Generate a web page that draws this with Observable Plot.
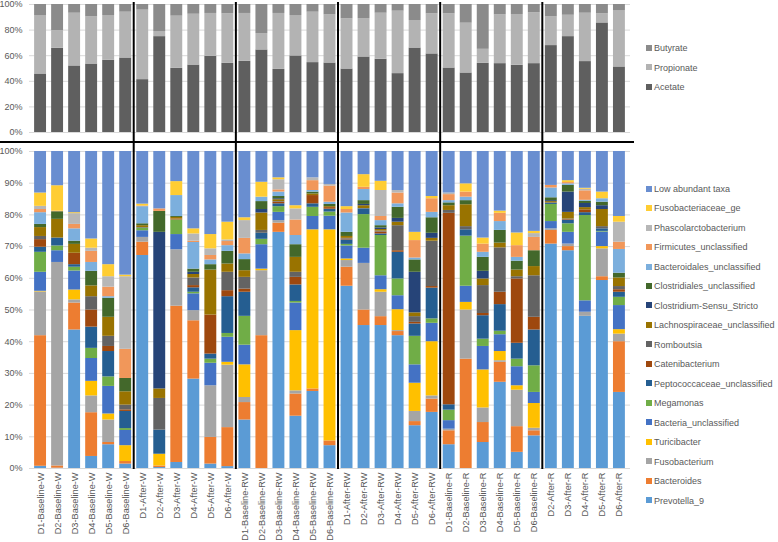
<!DOCTYPE html>
<html><head><meta charset="utf-8">
<script src="https://cdn.jsdelivr.net/npm/d3@7"></script>
<script src="https://cdn.jsdelivr.net/npm/@observablehq/plot@0.6"></script>
<style>
body{margin:0;background:#fff;font-family:"Liberation Sans",Arial,sans-serif;}
#wrap{position:relative;width:778px;height:542px;overflow:hidden;background:#fff;}
#top{position:absolute;left:0;top:0;}
#bottom{position:absolute;left:0;top:145px;}
.legend{position:absolute;left:646px;top:0;font-size:9px;color:#595959;}
.item{position:absolute;left:0;white-space:nowrap;height:12px;line-height:12px;}
.sw{display:inline-block;width:6px;height:6px;margin-right:2px;vertical-align:middle;position:relative;top:-1px;}
</style></head>
<body><div id="wrap"><div id="top"></div><div id="bottom"></div><div id="legTop" class="legend"></div><div id="legBottom" class="legend"></div></div>
<script>
const categories = [
  "D1-Baseline-W","D2-Baseline-W","D3-Baseline-W","D4-Baseline-W","D5-Baseline-W","D6-Baseline-W",
  "D1-After-W","D2-After-W","D3-After-W","D4-After-W","D5-After-W","D6-After-W",
  "D1-Baseline-RW","D2-Baseline-RW","D3-Baseline-RW","D4-Baseline-RW","D5-Baseline-RW","D6-Baseline-RW",
  "D1-After-RW","D2-After-RW","D3-After-RW","D4-After-RW","D5-After-RW","D6-After-RW",
  "D1-Baseline-R","D2-Baseline-R","D3-Baseline-R","D4-Baseline-R","D5-Baseline-R","D6-Baseline-R",
  "D2-After-R","D3-After-R","D4-After-R","D5-After-R","D6-After-R"];
const groupEnds = ["D6-Baseline-W","D6-After-W","D6-Baseline-RW","D6-After-RW","D6-Baseline-R"];

// SCFA panel (%)
const scfaNames = ["Acetate","Propionate","Butyrate"];
const scfaColors = ["#5f5f5f","#b3b3b3","#8b8b8b"];
const acetate =    [45.7,65.8,52.0,53.5,56.4,58.2, 41.3,74.9,50.1,52.7,59.5,54.0, 55.6,64.5,49.3,59.8,54.6,54.3, 49.6,59.0,57.2,46.0,66.0,61.4, 50.4,46.5,54.0,53.8,52.5,53.8, 67.9,74.9,55.4,85.6,51.2];
const propionate = [45.7,13.8,41.2,36.8,35.0,35.8, 54.3,4.0,40.8,39.7,33.5,38.7, 37.4,12.8,43.7,31.6,39.4,37.6, 39.2,30.0,36.0,48.8,21.5,31.3, 42.3,38.9,11.0,38.1,39.7,39.7, 22.4,16.7,37.8,7.1,44.1];
const butyrate =   [8.6,20.4,6.8,9.7,8.6,6.0, 4.4,21.1,9.1,7.6,7.0,7.3, 7.0,22.7,7.0,8.6,6.0,8.1, 11.2,11.0,6.8,5.2,12.5,7.3, 7.3,14.6,35.0,8.1,7.8,6.5, 9.7,8.4,6.8,7.3,4.7];

// Taxa panel (%), stacked bottom -> top
const taxa = ["Prevotella_9","Bacteroides","Fusobacterium","Turicibacter","Bacteria_unclassified","Megamonas",
  "Peptococcaceae_unclassified","Catenibacterium","Romboutsia","Lachnospiraceae_unclassified","Clostridium-Sensu_Stricto",
  "Clostridiales_unclassified","Bacteroidales_unclassified","Firmicutes_unclassified","Phascolarctobacterium",
  "Fusobacteriaceae_ge","Low abundant taxa"];
const taxaColors = ["#5B9BD5","#ED7D31","#A5A5A5","#FFC000","#4472C4","#70AD47","#255E91","#9E480E","#636363",
  "#997300","#264478","#43682B","#7CAFDD","#F1975A","#B7B7B7","#FFCD33","#698ED0"];
const prevotella9 = [0.7,0.1,43.7,3.8,7.5,1.4, 67.2,0.3,1.9,28.2,1.4,0.6, 15.3,0,74.5,16.5,24.3,7.2, 57.5,45.1,45.1,41.9,13.5,17.7, 7.5,0,8.2,27.2,5.1,10.3, 70.8,68.7,48.0,59.3,24.0];
const bacteroides = [41.2,0.7,8.5,13.8,0.7,0.8, 4.2,0.5,49.3,18.4,8.4,12.3, 5.5,41.9,2.9,7.0,0.8,1.5, 6.0,4.9,2.8,1.3,1.3,4.2, 4.4,34.5,6.3,6.3,8.1,1.6, 4.3,1.3,0,1.2,16.0];
const fusobacterium = [13.8,64.2,1.0,5.3,7.1,0, 1.5,0,17.8,3.2,16.3,19.7, 1.6,20.5,0.8,1.0,0,0, 2.1,14.7,7.7,0.3,3.2,1.0, 0.5,15.5,4.6,0.5,11.5,0.8, 0.5,0.8,1.3,8.8,2.4];
const turicibacter = [0.2,0,3.1,4.6,1.9,5.0, 0,3.7,0,0,0,0.9, 10.3,0.5,0,19.0,50.2,66.6, 0.5,0,0.8,6.6,8.9,17.1, 0,2.4,12.0,2.9,1.4,7.8, 0,0,0,0.7,1.4];
const bacteriaUnclassified = [6.0,3.7,6.0,7.2,8.7,4.8, 2.1,0,4.8,5.3,7.1,7.9, 6.2,7.7,2.6,8.7,4.2,4.3, 4.1,4.8,4.4,4.4,5.8,5.8, 2.7,5.1,7.4,5.3,6.0,3.5, 2.3,3.7,3.6,4.6,7.6];
const megamonas = [6.3,1.5,1.2,3.2,3.0,0.6, 0.8,0,4.6,0.5,1.3,1.2, 9.1,1.7,1.8,0.5,2.9,1.3, 0.5,10.6,12.7,5.3,9.0,1.4, 3.3,15.8,2.3,1.1,2.4,8.4, 5.4,2.7,26.9,0.2,2.6];
const peptococcaceae = [1.6,2.5,0.8,6.7,8.0,5.4, 0,7.6,0,1.4,1.6,11.6, 7.6,1.9,0.9,5.2,1.1,0.9, 1.4,1.8,0.5,8.4,3.9,9.7, 1.7,2.0,7.4,8.4,5.0,11.3, 0.3,1.1,0.9,0.8,1.6];
const catenibacterium = [2.4,0,3.6,5.4,1.6,0.5, 0,0,0.3,0.7,12.3,1.9, 1.0,0,0.5,2.4,2.6,0.5, 0.3,0,0.6,0.5,0.5,0.5, 60.4,0,0.7,3.9,20.3,4.0, 0,0.2,0.9,0,0.8];
const romboutsia = [1.0,0,0,4.2,3.2,1.5, 0.2,10.0,0,2.4,0,5.8, 3.7,0.9,0.2,1.6,0,0, 0.2,0.1,0.3,7.9,1.8,14.3, 0.9,1.0,8.8,14.0,0.7,13.1, 0.2,0.2,0,0.7,1.0];
const lachnospiraceae = [2.8,5.9,2.8,3.4,6.0,4.2, 0.6,3.0,0.5,1.1,14.2,2.6, 2.1,5.5,0.6,4.7,0.5,0.3, 0.6,0.9,0.5,1.1,1.2,0.9, 1.5,6.9,2.1,1.5,2.1,2.9, 0.4,2.1,0.7,5.4,2.7];
const clostridiumSensuStricto = [0,0,0,0,0,0, 0,49.4,0,0.7,0,0, 0,1.1,0.3,0,0,0, 0,0.4,0.5,1.2,12.8,1.6, 0,0,2.4,0,0,0, 0.3,6.4,1.3,1.2,0];
const clostridiales = [1.0,2.4,1.0,4.6,6.0,4.2, 0.6,6.6,0.3,1.0,1.7,4.0, 3.5,2.5,0.7,4.0,0.6,0.7, 1.3,1.2,0.7,3.5,3.9,4.9, 0.9,1.3,4.4,4.0,2.8,5.0, 0.9,2.1,0.7,1.1,1.5];
const bacteroidales = [3.7,0,3.9,2.8,0.5,0, 5.4,0,6.6,8.4,1.5,1.8, 1.8,1.4,1.4,2.9,0.5,0.7, 6.1,3.5,1.6,1.1,0.6,1.7, 0.7,1.1,1.6,2.8,1.2,0, 3.1,0.5,0.3,1.1,7.5];
const firmicutes = [1.0,0.2,1.4,3.5,3.0,9.2, 0.2,0.8,0,0.4,1.4,1.3, 4.9,0,0.7,4.9,3.1,5.1, 1.1,0.7,1.3,3.4,5.5,4.3, 1.9,1.6,2.6,2.6,3.7,4.2, 0.8,0.4,3.0,0,2.3];
const phascolarctobacterium = [1.0,0,3.4,1.0,3.3,22.9, 0,0,0,2.3,2.1,0.5, 5.6,0,3.2,3.5,0.9,0.5, 0,0,8.2,0.8,0,0, 0.5,0,0,0,0,1.2, 0,0,0.5,0,6.3];
const fusobacteriaceae = [4.2,8.0,0.3,2.9,3.8,0.5, 0.6,0,4.4,1.6,4.5,5.6, 0.9,4.7,0.6,1.0,0,0, 0.9,4.0,2.9,0,2.6,0.7, 0,2.6,1.9,0.7,4.0,0.7, 0,0.6,0.3,2.1,1.8];
const lowAbundant = [13.1,10.8,19.3,27.6,35.7,39.0, 16.6,18.1,9.5,24.4,26.2,22.3, 20.9,9.7,8.3,17.1,8.3,10.4, 17.4,7.3,9.4,12.3,25.5,14.2, 13.1,10.2,27.3,18.8,25.7,25.2, 10.7,9.2,11.6,12.8,20.5];

const yTicksTop = [0,20,40,60,80,100];
const yTicksBottom = [0,10,20,30,40,50,60,70,80,90,100];

const scfaSeries = [acetate, propionate, butyrate];
const taxaSeries = [prevotella9, bacteroides, fusobacterium, turicibacter, bacteriaUnclassified, megamonas,
  peptococcaceae, catenibacterium, romboutsia, lachnospiraceae, clostridiumSensuStricto, clostridiales,
  bacteroidales, firmicutes, phascolarctobacterium, fusobacteriaceae, lowAbundant];

const scfaRows = scfaNames.flatMap((s, k) => categories.map((c, i) => ({cat: c, series: s, value: scfaSeries[k][i]})));
const taxaRows = taxa.flatMap((s, k) => categories.map((c, i) => ({cat: c, series: s, value: taxaSeries[k][i]})));

const font = "'Liberation Sans', Arial, sans-serif";

function separators(y1f, y2f, withHLine) {
  return (index, scales, values, dim) => {
    const x = scales.x;
    const bw = x.bandwidth();
    const step = x.step ? x.step() : bw / 0.7;
    const g = d3.create("svg:g");
    const y1 = y1f(scales, dim), y2 = y2f(scales, dim);
    for (const c of groupEnds) {
      const px = x(c) + bw + (step - bw) / 2;
      g.append("line").attr("x1", px).attr("x2", px).attr("y1", y1).attr("y2", y2)
        .attr("stroke", "#000").attr("stroke-width", 2);
    }
    if (withHLine) {
      const hy = dim.height - 3;
      g.append("line").attr("x1", 0).attr("x2", dim.width - dim.marginRight + 4)
        .attr("y1", hy).attr("y2", hy).attr("stroke", "#000").attr("stroke-width", 2);
    }
    return g.node();
  };
}

const commonStyle = {fontFamily: font, fontSize: "9px", color: "#595959", background: "transparent", overflow: "visible"};

const topPlot = Plot.plot({
  width: 778, height: 145, marginLeft: 29, marginRight: 148, marginTop: 4, marginBottom: 13,
  style: commonStyle,
  x: {domain: categories, padding: 0.3, round: false, axis: null},
  y: {domain: [0, 100]},
  color: {domain: scfaNames, range: scfaColors},
  marks: [
    Plot.gridY(yTicksTop, {stroke: "#d9d9d9", strokeOpacity: 1}),
    Plot.barY(scfaRows, {x: "cat", y: "value", fill: "series"}),
    Plot.axisY(yTicksTop, {tickSize: 0, tickPadding: 7, tickFormat: d => d + "%", label: null}),
    separators(() => 2, (s, d) => d.height, true)
  ]
});
document.getElementById("top").appendChild(topPlot);

const bottomPlot = Plot.plot({
  width: 778, height: 397, marginLeft: 29, marginRight: 148, marginTop: 6, marginBottom: 74,
  style: commonStyle,
  x: {domain: categories, padding: 0.3, round: false, label: null},
  y: {domain: [0, 100], label: null},
  color: {domain: taxa, range: taxaColors},
  marks: [
    Plot.gridY(yTicksBottom, {stroke: "#d9d9d9", strokeOpacity: 1}),
    Plot.barY(taxaRows, {x: "cat", y: "value", fill: "series"}),
    Plot.axisY(yTicksBottom, {tickSize: 0, tickPadding: 7, tickFormat: d => d + "%", label: null}),
    Plot.axisX({tickSize: 0, tickPadding: 4, tickRotate: -90, fontSize: 9.2, label: null}),
    separators(() => 0, (s, d) => s.y(0) + 1, false)
  ]
});
document.getElementById("bottom").appendChild(bottomPlot);

function legend(el, names, colors, y0, dy) {
  names.forEach((n, i) => {
    const it = document.createElement("div");
    it.className = "item";
    it.style.top = (y0 + i * dy - 6) + "px";
    it.innerHTML = `<span class="sw" style="background:${colors[i]}"></span>${n}`;
    el.appendChild(it);
  });
}
legend(document.getElementById("legTop"), scfaNames.slice().reverse(), scfaColors.slice().reverse(), 48.3, 19.5);
legend(document.getElementById("legBottom"), taxa.slice().reverse(), taxaColors.slice().reverse(), 189, 19.47);
</script></body></html>
